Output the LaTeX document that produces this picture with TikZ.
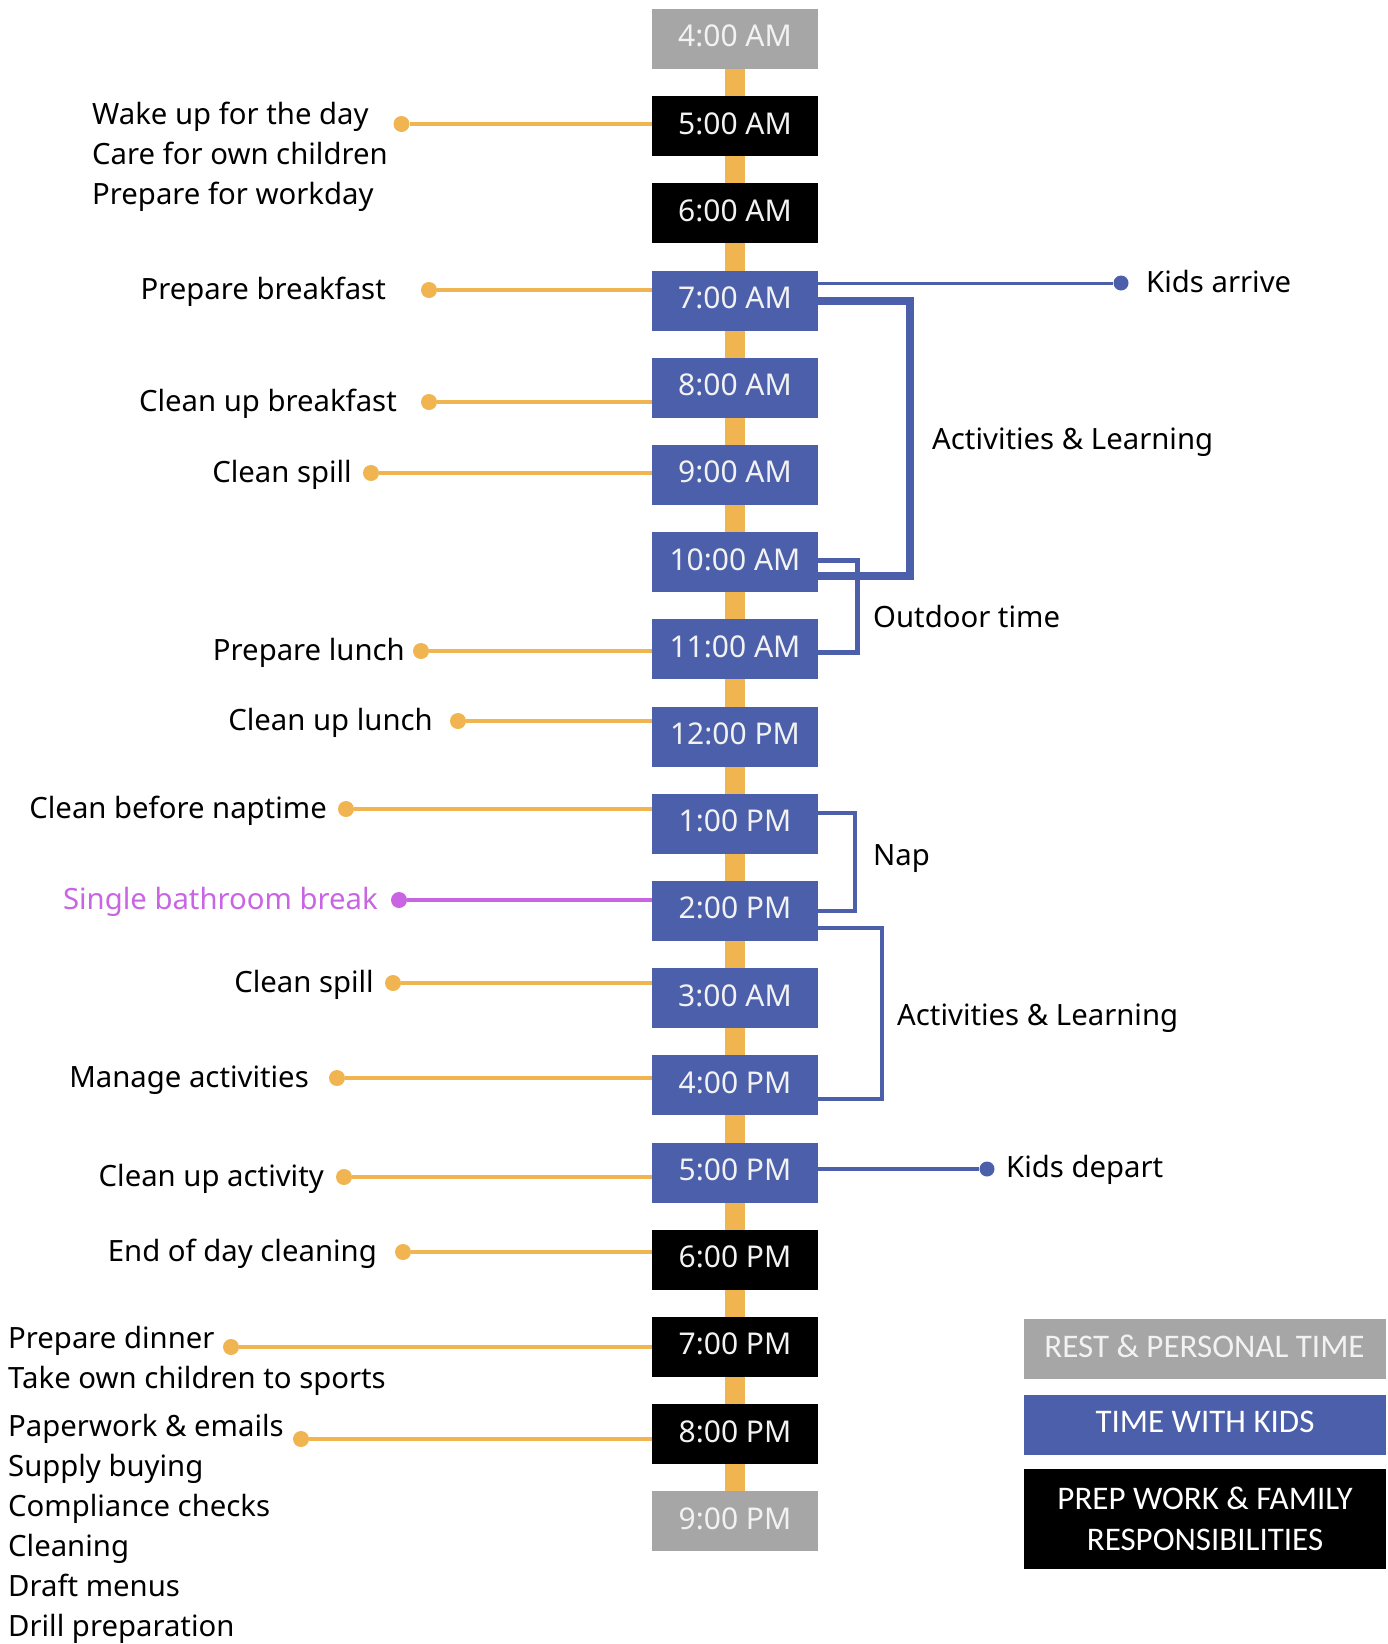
\documentclass[tikz,border=0pt]{standalone}
\usepackage{fontspec}
\setmainfont{Noto Sans}
\newfontfamily\legendfont{Carlito}
\usetikzlibrary{calc}
\usetikzlibrary{backgrounds}
\definecolor{restgray}{HTML}{A6A6A6}
\definecolor{kidsblue}{HTML}{4B5FAA}
\definecolor{spineorange}{HTML}{F0B551}
\definecolor{bathpurple}{HTML}{C965E3}

\begin{document}
\begin{tikzpicture}[x=1pt,y=-1pt,
  slot/.style={minimum width=166pt, minimum height=60pt, inner sep=0, text depth=6pt, text=white!95!black, font=\fontsize{30}{36}\selectfont},
  task/.style={font=\fontsize{29.3}{40}\selectfont, inner sep=0},
  dot/.style={circle, fill=spineorange, inner sep=0, minimum size=16pt},
  tie/.style={spineorange, line width=3.5pt},
  kdot/.style={circle, fill=kidsblue, inner sep=0, minimum size=15pt},
  bracket/.style={kidsblue, line width=#1},
  legend/.style={minimum width=362pt, inner sep=0, text=white!95!black, align=center, font=\legendfont\fontsize{33}{41}\selectfont}]
\useasboundingbox (0,0) rectangle (1388,1644);

% time slots
\foreach \i/\lab/\c in {0/4:00 AM/restgray, 1/5:00 AM/black, 2/6:00 AM/black, 3/7:00 AM/kidsblue,
  4/8:00 AM/kidsblue, 5/9:00 AM/kidsblue, 6/10:00 AM/kidsblue, 7/11:00 AM/kidsblue, 8/12:00 PM/kidsblue,
  9/1:00 PM/kidsblue, 10/2:00 PM/kidsblue, 11/3:00 AM/kidsblue, 12/4:00 PM/kidsblue, 13/5:00 PM/kidsblue,
  14/6:00 PM/black, 15/7:00 PM/black, 16/8:00 PM/black, 17/9:00 PM/restgray}
  \node[slot, fill=\c] (t\i) at (735,{39+87.2*\i}) {\lab};
\begin{scope}[on background layer]
\draw[spineorange, line width=20pt] (t0.center) -- (t17.center);
\end{scope}

% tasks on the left
\foreach \n/\txt/\tx/\dx/\dy/\s in {b/Prepare breakfast/386/429/290/3, c/Clean up breakfast/397/429/402/4,
  d/Clean spill/352/371/473/5, e/Prepare lunch/405/421/651/7, f/Clean up lunch/433/458/721/8,
  g/Clean before naptime/327/346/809/9, i/Clean spill/374/393/983/11, j/Manage activities/309/337/1078/12,
  k/Clean up activity/324/344/1177/13, l/End of day cleaning/377/403/1252/14} {
 \node[dot] (d\n) at (\dx,\dy) {};
 \node[task, anchor=east] (x\n) at (\tx,\dy+2) {\txt};
 \draw[tie] (d\n) -- (d\n -| t\s.west);
}
\node[dot] (da) at (401.5,124) {};
\node[task, anchor=west, align=left] (xa) at (92,157) {Wake up for the day\\Care for own children\\Prepare for workday};
\draw[tie] (da) -- (da -| t1.west);
\node[dot, fill=bathpurple] (dh) at (399,900) {};
\node[task, anchor=east, text=bathpurple] (xh) at (378,902) {Single bathroom break};
\draw[tie, bathpurple] (dh) -- (dh -| t10.west);
\node[dot] (dm) at (231,1347) {};
\node[task, anchor=west, align=left] (xm) at (8,1360.5) {Prepare dinner\\Take own children to sports};
\draw[tie] (dm) -- (dm -| t15.west);
\node[dot] (dn) at (301,1439) {};
\node[task, anchor=west, align=left] (xn) at (8,1529) {Paperwork \& emails\\Supply buying\\Compliance checks\\Cleaning\\Draft menus\\Drill preparation};
\draw[tie] (dn) -- (dn -| t16.west);

% kids arrive and depart
\node[kdot] (arrive) at (1121,283) {};
\node[task, anchor=west] (xarrive) at (1146,282) {Kids arrive};
\draw[bracket=3pt] (arrive -| t3.east) -- (arrive);
\node[kdot] (depart) at (987,1169) {};
\node[task, anchor=west] (xdepart) at (1006,1170) {Kids depart};
\draw[bracket=4pt] (depart -| t13.east) -- (depart);

% brackets
\draw[bracket=8pt] (t3.east) -- ++(92,0) |- ($(t6.east)+(0,14)$);
\node[task, anchor=west] (xlearn) at (932,442) {Activities \& Learning};
\draw[bracket=5pt] ($(t6.east)+(0,-1.5)$) -- ++(39,0) |- ($(t7.east)+(0,3)$);
\node[task, anchor=west] (xout) at (873,617) {Outdoor time};
\draw[bracket=4.5pt] ($(t9.east)+(0,-11)$) -- ++(37,0) |- (t10.east);
\node[task, anchor=west] (xnap) at (873,859) {Nap};
\draw[bracket=4pt] ($(t10.east)+(0,17)$) -- ++(64,0) |- ($(t12.east)+(0,14)$);
\node[task, anchor=west] (xlearn2) at (897,1018) {Activities \& Learning};

% legend
\node[legend, fill=restgray, minimum height=60pt, text depth=6pt] (lrest) at (1204.5,1349) {REST \& PERSONAL TIME};
\node[legend, fill=kidsblue, minimum height=60pt, text depth=6pt, text=white] (lkids) at (1205,1425) {TIME WITH KIDS};
\node[legend, fill=black, minimum height=100pt, text=white] (lprep) at (1205,1519) {PREP WORK \& FAMILY\\RESPONSIBILITIES};
\end{tikzpicture}
\end{document}
